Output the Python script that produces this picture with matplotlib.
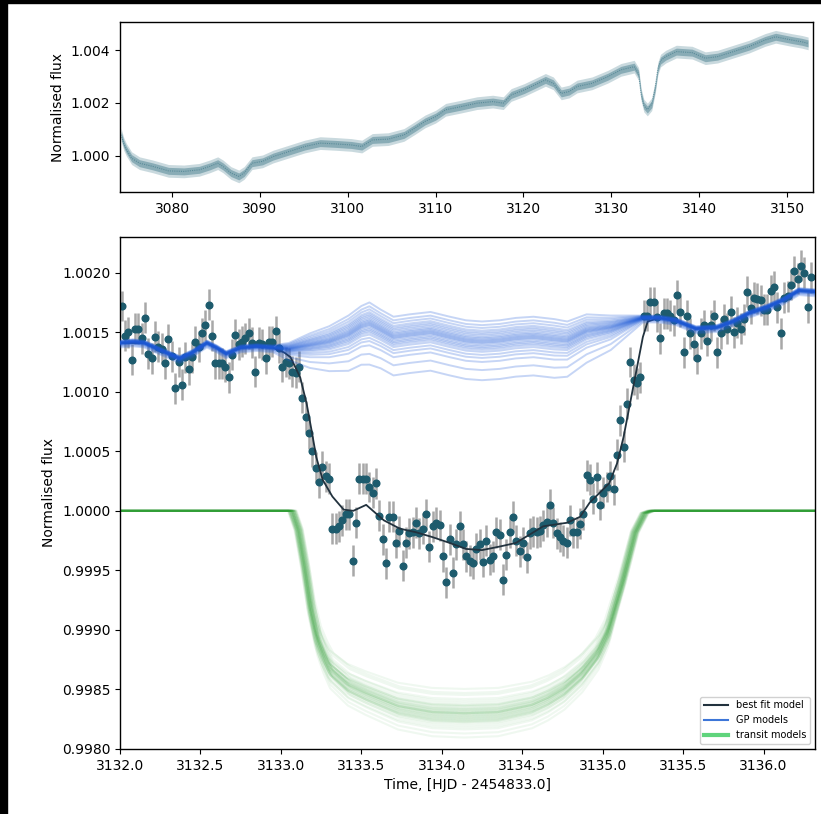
import numpy as np
import matplotlib
matplotlib.use("Agg")
import matplotlib.pyplot as plt
from matplotlib.ticker import FormatStrFormatter, MultipleLocator
from matplotlib.lines import Line2D
from matplotlib.patches import Rectangle

# --- full light curve (upper panel): centre of the point cloud
lc_time = [3074.2, 3074.5, 3074.8, 3075.4, 3076.3, 3077.8, 3079.6, 3081.35, 3083.1, 3084.3,
           3085.2, 3085.8, 3086.7, 3087.6, 3088.2, 3089.1, 3090.3, 3091.5, 3093.3, 3095.1,
           3096.85, 3098.6, 3100.4, 3101.6, 3102.8, 3104.6, 3106.4, 3107.6, 3108.8, 3110.0,
           3111.15, 3112.9, 3114.7, 3116.5, 3117.7, 3118.6, 3120.1, 3121.3, 3122.5, 3123.4,
           3124.3, 3125.2, 3126.1, 3127.8, 3129.6, 3131.1, 3132.6, 3133.1, 3133.4, 3133.7,
           3134.1, 3134.6, 3135.0, 3135.3, 3135.6, 3136.2, 3137.4, 3139.2, 3140.7, 3142.1,
           3143.9, 3145.7, 3147.5, 3148.7, 3150.5, 3151.7, 3152.4]
lc_flux = [1.0008, 1.00045, 1.00023, 0.99991, 0.99972, 0.9996, 0.99943, 0.99941, 0.99947, 0.9996,
           0.99972, 0.9996, 0.99935, 0.99922, 0.99935, 0.99972, 0.99979, 0.99997, 1.00016, 1.00035,
           1.00048, 1.00045, 1.00041, 1.00035, 1.0006, 1.00063, 1.00079, 1.00104, 1.0013, 1.00148,
           1.00174, 1.00186, 1.00199, 1.00205, 1.00199, 1.0023, 1.00249, 1.00268, 1.00287, 1.00274,
           1.00236, 1.00243, 1.00262, 1.00274, 1.00299, 1.00325, 1.00337, 1.0031, 1.0023, 1.0019,
           1.00175, 1.00195, 1.0026, 1.0033, 1.0036, 1.00375, 1.00394, 1.0039, 1.00369, 1.00375,
           1.00394, 1.00413, 1.00438, 1.0045, 1.00438, 1.00431, 1.00425]
lc_scatter = 0.00024  # half width of the point cloud

# --- binned data around the transit (lower panel), 30 min cadence
data_t0 = 3132.01
data_cadence = 0.0208
data_flux = [
    1.00172, 1.00147, 1.00150, 1.00127, 1.00153, 1.00153, 1.00145, 1.00162, 1.00132, 1.00128,
    1.00146, 1.00138, 1.00136, 1.00124, 1.00144, 1.00130, 1.00103, 1.00125, 1.00106, 1.00129,
    1.00119, 1.00129, 1.00142, 1.00138, 1.00149, 1.00156, 1.00173, 1.00147, 1.00124, 1.00124,
    1.00124, 1.00121, 1.00112, 1.00131, 1.00148, 1.00140, 1.00142, 1.00145, 1.00149, 1.00141,
    1.00117, 1.00141, 1.00140, 1.00128, 1.00142, 1.00142, 1.00151, 1.00137, 1.00121, 1.00125,
    1.00124, 1.00117, 1.00116, 1.00121, 1.00095, 1.00079, 1.00065, 1.00050, 1.00036, 1.00024,
    1.00037, 1.00029, 1.00027, 0.99985, 0.99985, 0.99987, 0.99992, 0.99997, 0.99997, 0.99958,
    0.99990, 1.00027, 1.00027, 1.00027, 1.00020, 1.00015, 1.00023, 0.99996, 0.99976, 0.99956,
    0.99995, 0.99995, 0.99973, 0.99983, 0.99954, 0.99973, 0.99981, 0.99982, 0.99990, 0.99981,
    0.99985, 0.99997, 0.99970, 0.99987, 0.99990, 0.99988, 0.99962, 0.99940, 0.99976, 0.99948,
    0.99972, 0.99987, 0.99972, 0.99962, 0.99958, 0.99956, 0.99968, 0.99972, 0.99957, 0.99975,
    0.99959, 0.99962, 0.99982, 0.99980, 0.99942, 0.99963, 0.99982, 0.99995, 0.99975, 0.99966,
    0.99973, 0.99961, 0.99981, 0.99983, 0.99982, 0.99983, 0.99988, 0.99991, 1.00005, 0.99990,
    0.99981, 0.99978, 0.99975, 0.99973, 0.99992, 0.99982, 0.99982, 0.99989, 0.99997, 1.00030,
    1.00026, 1.00010, 1.00028, 1.00005, 1.00015, 1.00020, 1.00029, 1.00018, 1.00047, 1.00076,
    1.00054, 1.00090, 1.00125, 1.00110, 1.00107, 1.00112, 1.00164, 1.00164, 1.00175, 1.00175,
    1.00163, 1.00145, 1.00166, 1.00166, 1.00164, 1.00160, 1.00181, 1.00167, 1.00133, 1.00164,
    1.00149, 1.00140, 1.00128, 1.00149, 1.00156, 1.00143, 1.00156, 1.00164, 1.00133, 1.00149,
    1.00161, 1.00153, 1.00167, 1.00150, 1.00158, 1.00153, 1.00161, 1.00184, 1.00170, 1.00179,
    1.00178, 1.00177, 1.00169, 1.00169, 1.00185, 1.00188, 1.00171, 1.00149, 1.00179, 1.00180,
    1.00190, 1.00201, 1.00195, 1.00206, 1.00200, 1.00171, 1.00196]
data_err = 0.00013

# --- GP model: mean curve, spread of the draws, and the draws' offsets (in units of spread)
gp_time = [3132.0, 3132.08, 3132.15, 3132.25, 3132.37, 3132.45, 3132.54, 3132.6, 3132.66, 3132.75,
           3132.85, 3132.95, 3133.05, 3133.18, 3133.3, 3133.42, 3133.5, 3133.55, 3133.62, 3133.7,
           3133.8, 3133.93, 3134.05, 3134.15, 3134.25, 3134.36, 3134.46, 3134.57, 3134.7, 3134.78,
           3134.9, 3135.05, 3135.15, 3135.25, 3135.35, 3135.45, 3135.58, 3135.71, 3135.81, 3135.91,
           3136.02, 3136.12, 3136.22, 3136.32]
gp_mean = [1.00141, 1.00142, 1.00141, 1.00135, 1.00128, 1.00133, 1.00141, 1.00137, 1.00132, 1.00137,
           1.00138, 1.00137, 1.00136, 1.00139, 1.00142, 1.00148, 1.00155, 1.00157, 1.00152, 1.00146,
           1.00148, 1.00150, 1.00146, 1.00143, 1.00142, 1.00143, 1.00145, 1.00146, 1.00144, 1.00143,
           1.00151, 1.00154, 1.00158, 1.00162, 1.00162, 1.00160, 1.00153, 1.00154, 1.00159, 1.00166,
           1.00171, 1.00177, 1.00185, 1.00184]
gp_spread = [0.00002, 0.00002, 0.00002, 0.00002, 0.00002, 0.00002, 0.00002, 0.00002, 0.00002, 0.00002,
             0.00002, 0.00002, 0.00005, 0.0001, 0.00013, 0.00016, 0.00017, 0.00018, 0.00017, 0.00017,
             0.00017, 0.00017, 0.00017, 0.00017, 0.00017, 0.00017, 0.00017, 0.00017, 0.00017, 0.00016,
             0.00014, 0.0001, 0.00006, 0.00002, 0.00002, 0.00002, 0.00002, 0.00002, 0.00002, 0.00002,
             0.00002, 0.00002, 0.00002, 0.00002]
gp_draws = [-1.9, -1.4, -1.0, -0.8, -0.65, -0.5, -0.4, -0.32, -0.25, -0.18, -0.1, -0.05,
            0.0, 0.05, 0.1, 0.16, 0.22, 0.3, 0.38, 0.46, 0.55, 0.68, 0.82, 1.0]

# --- transit model: typical profile plus depth / duration scale of each posterior draw
tr_time = [3131.5, 3133.07, 3133.11, 3133.15, 3133.19, 3133.23, 3133.27, 3133.31, 3133.42, 3133.53,
           3133.73, 3133.94, 3134.14, 3134.35, 3134.56, 3134.66, 3134.76, 3134.87, 3134.97, 3135.03,
           3135.07, 3135.12, 3135.16, 3135.2, 3135.26, 3135.3, 3136.8]
tr_flux = [1.0, 1.0, 0.99984, 0.99953, 0.99917, 0.99892, 0.99878, 0.99867, 0.99854, 0.99847,
           0.99836, 0.99831, 0.99830, 0.99831, 0.99837, 0.99843, 0.99851, 0.99864, 0.99881, 0.99898,
           0.99917, 0.99940, 0.99961, 0.99982, 0.99998, 1.0, 1.0]
tr_centre = 3134.18
tr_depth_scale = [0.88, 0.91, 0.93, 0.94, 0.95, 0.96, 0.965, 0.97, 0.975, 0.98,
                  0.98, 0.985, 0.99, 0.99, 0.995, 1.0, 1.0, 1.0, 1.005, 1.01,
                  1.01, 1.015, 1.02, 1.02, 1.025, 1.03, 1.03, 1.035, 1.04, 1.045,
                  1.05, 1.06, 1.07, 1.08, 1.10, 1.12, 0.9, 0.96, 1.0, 1.04]
tr_width_scale = [1.01, 0.99, 1.02, 0.985, 1.0, 1.015, 0.98, 1.005, 0.995, 1.02,
                  0.99, 1.01, 0.975, 1.0, 1.025, 0.995, 1.005, 0.985, 1.01, 1.0,
                  0.99, 1.02, 1.0, 0.98, 1.01, 0.995, 1.015, 1.005, 0.99, 1.0,
                  1.02, 0.985, 1.01, 0.995, 1.0, 1.005, 0.98, 1.015, 0.99, 1.0]

# --- best fit (GP + transit)
fit_time = [3132.0, 3132.15, 3132.25, 3132.37, 3132.45, 3132.54, 3132.6, 3132.66, 3132.75, 3132.85,
            3132.95, 3133.02, 3133.06, 3133.12, 3133.16, 3133.19, 3133.22, 3133.26, 3133.32, 3133.39,
            3133.45, 3133.53, 3133.64, 3133.74, 3133.84, 3133.94, 3134.05, 3134.15, 3134.25, 3134.36,
            3134.46, 3134.57, 3134.63, 3134.78, 3134.86, 3134.92, 3134.98, 3135.04, 3135.09, 3135.13,
            3135.17, 3135.21, 3135.25, 3135.28, 3135.35, 3135.45, 3135.58, 3135.71, 3135.81, 3135.91,
            3136.02, 3136.12, 3136.22, 3136.32]
fit_flux = [1.00141, 1.00141, 1.00135, 1.00128, 1.00133, 1.00141, 1.00137, 1.00132, 1.00137, 1.00138,
            1.00137, 1.00133, 1.00129, 1.00112, 1.00090, 1.00068, 1.00045, 1.00026, 1.00012, 1.00001,
            1.00000, 1.00005, 0.99992, 0.99985, 0.99982, 0.99978, 0.99973, 0.99968, 0.99967, 0.99970,
            0.99973, 0.99982, 0.99987, 0.99990, 0.99995, 1.00007, 1.00015, 1.00023, 1.00040, 1.00062,
            1.00090, 1.00118, 1.00146, 1.00159, 1.00162, 1.00160, 1.00153, 1.00154, 1.00159, 1.00166,
            1.00171, 1.00177, 1.00185, 1.00184]

teal = "#2a6a7c"
dot_col = "#1d5b6d"
gp_col = "#1d5ad8"
tr_col = "#2a9e30"
fit_col = "#22323e"

fig = plt.figure(figsize=(8.21, 8.14), dpi=100)
fig.patch.set_facecolor("white")
# screenshot border
fig.patches.append(Rectangle((0, 0), 7 / 821, 1, transform=fig.transFigure, color="black", zorder=10))
fig.patches.append(Rectangle((0, 1 - 3 / 814), 1, 3 / 814, transform=fig.transFigure, color="black", zorder=10))

ax_top = fig.add_axes([0.1462, 0.7641, 0.8441, 0.2089])
ax = fig.add_axes([0.1462, 0.0799, 0.8465, 0.6290])

# upper panel
lc_t = np.array(lc_time)
lc_f = np.array(lc_flux)
ax_top.fill_between(lc_t, lc_f - lc_scatter, lc_f + lc_scatter, color=teal, alpha=0.25, lw=0)
ax_top.fill_between(lc_t, lc_f - lc_scatter * 0.55, lc_f + lc_scatter * 0.55, color=teal, alpha=0.4, lw=0)
ax_top.plot(lc_t, lc_f, color=teal, lw=0.8, alpha=0.5, ls=(0, (1, 1)))
ax_top.set_xlim(3074.08, 3152.96)
ax_top.set_ylim(0.99863, 1.00506)
ax_top.xaxis.set_major_locator(MultipleLocator(10))
ax_top.yaxis.set_major_locator(MultipleLocator(0.002))
ax_top.yaxis.set_major_formatter(FormatStrFormatter("%.3f"))
ax_top.set_ylabel("Normalised flux", fontsize=10)

# lower panel
data_time = data_t0 + data_cadence * np.arange(len(data_flux))
ax.errorbar(data_time, data_flux, yerr=data_err, fmt="o", ms=4.8, color=dot_col,
            ecolor="#a8a8a8", elinewidth=1.8, capsize=0, zorder=2)

tt = np.array(tr_time)
tf = np.array(tr_flux)
for d, w in zip(tr_depth_scale, tr_width_scale):
    ax.plot(tr_centre + (tt - tr_centre) * w, 1 - d * (1 - tf), color=tr_col, alpha=0.07, lw=1.5, zorder=1)

gm = np.array(gp_mean)
gs = np.array(gp_spread)
for s in gp_draws:
    ax.plot(gp_time, gm + s * gs, color=gp_col, alpha=0.25, lw=1.4, zorder=3)

ax.plot(fit_time, fit_flux, color=fit_col, lw=1.3, zorder=2.5)

ax.set_xlim(3132.0, 3136.32)
ax.set_ylim(0.9980, 1.0023)
ax.xaxis.set_major_locator(MultipleLocator(0.5))
ax.xaxis.set_major_formatter(FormatStrFormatter("%.1f"))
ax.yaxis.set_major_locator(MultipleLocator(0.0005))
ax.yaxis.set_major_formatter(FormatStrFormatter("%.4f"))
ax.set_xlabel("Time, [HJD - 2454833.0]", fontsize=10)
ax.set_ylabel("Normalised flux", fontsize=10)

handles = [Line2D([], [], color=fit_col, lw=1.5),
           Line2D([], [], color="#3d76d8", lw=1.5),
           Line2D([], [], color="#5fd47c", lw=3)]
ax.legend(handles, ["best fit model", "GP models", "transit models"], loc="lower right",
          fontsize=7, handlelength=2.5, framealpha=0.9)

for a in (ax, ax_top):
    for sp in a.spines.values():
        sp.set_linewidth(1.0)
    a.tick_params(labelsize=10)

fig.savefig("out.png", dpi=100)
